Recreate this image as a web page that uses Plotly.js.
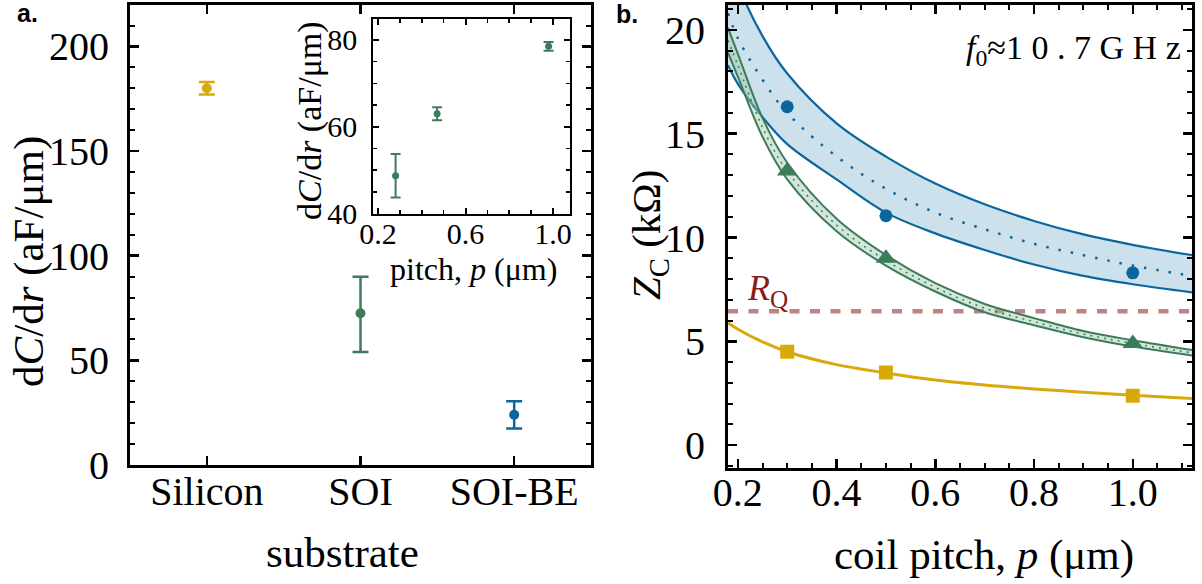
<!DOCTYPE html>
<html>
<head>
<meta charset="utf-8">
<script src="https://cdn.plot.ly/plotly-3.0.1.min.js"></script>
<style>html,body{margin:0;padding:0;background:#fff;}#chart{width:1202px;height:584px;}</style>
</head>
<body>
<div id="chart"></div>
<script>
// ---------- data ----------
const categories = ['Silicon', 'SOI', 'SOI-BE'];
const dCdr = [180, 72.5, 24];
const dCdrErrPlus = [3, 17.5, 6.5];
const dCdrErrMinus = [3, 18.5, 6.5];

const insetPitch = [0.28, 0.47, 0.98];
const insetDCdr = [48.7, 63.0, 78.5];
const insetErr = [5, 1.5, 1.0];

const curvePitch = [0.18, 0.2, 0.25, 0.3, 0.4, 0.5, 0.6, 0.7, 0.8, 0.9, 1.0, 1.12];
const blueUpper  = [23.8, 22.2, 19.7, 17.9, 15.5, 13.9, 12.6, 11.6, 10.8, 10.15, 9.65, 9.15];
const blueCenter = [20.8, 19.6, 17.6, 16.0, 13.9, 12.35, 11.2, 10.4, 9.7, 9.15, 8.65, 8.15];
const blueLower  = [18.3, 17.4, 15.8, 14.5, 12.8, 11.2, 10.2, 9.4, 8.7, 8.15, 7.75, 7.36];
const greenUpper  = [20.1, 18.85, 15.75, 13.6, 10.9, 9.15, 7.8, 6.8, 6.12, 5.5, 5.05, 4.58];
const greenCenter = [19.5, 18.3, 15.3, 13.2, 10.6, 8.9, 7.6, 6.6, 5.95, 5.35, 4.9, 4.45];
const greenLower  = [18.9, 17.75, 14.85, 12.8, 10.3, 8.65, 7.4, 6.4, 5.78, 5.2, 4.75, 4.32];
const yellowCurve = [5.9, 5.58, 4.97, 4.5, 3.88, 3.48, 3.14, 2.9, 2.71, 2.55, 2.4, 2.25];

const markerPitch = [0.3, 0.5, 1.0];
const blueMarkers = [16.3, 11.05, 8.3];
const greenMarkers = [13.2, 9.0, 4.9];
const yellowMarkers = [4.5, 3.5, 2.38];

const RQ = 6.45;

// ---------- styling ----------
const W = 1202, H = 584;
const SERIF = "'Liberation Serif', 'Times New Roman', serif";
const SANS = "'Liberation Sans', Arial, sans-serif";
const YEL = '#D9A90C', GRN = '#3B7D5A', BLU = '#0B669E';
const BLUFILL = 'rgba(120,175,205,0.38)', GRNFILL = 'rgba(160,200,170,0.45)';
const COLS = [YEL, GRN, BLU];
const fx = p => p / W;
const fy = p => 1 - p / H;

function frameAxis(extra) {
  return Object.assign({
    showline: true, linecolor: '#000', linewidth: 3, mirror: 'ticks',
    ticks: 'inside', tickcolor: '#000', tickwidth: 2.5, ticklen: 9,
    showgrid: false, zeroline: false, fixedrange: true,
    tickfont: {family: SERIF, size: 40, color: '#000'}
  }, extra);
}

const panelA = categories.map((c, i) => ({
  x: [c], y: [dCdr[i]], xaxis: 'x', yaxis: 'y', type: 'scatter', mode: 'markers',
  marker: {color: COLS[i], size: 10},
  error_y: {type: 'data', symmetric: false, array: [dCdrErrPlus[i]], arrayminus: [dCdrErrMinus[i]],
            thickness: 2.5, width: 8, color: COLS[i]}, hoverinfo: 'skip'
}));

const traces = [
  // inset
  {x: insetPitch, y: insetDCdr, xaxis: 'x2', yaxis: 'y2', type: 'scatter', mode: 'markers',
   marker: {color: GRN, size: 7},
   error_y: {type: 'data', array: insetErr, thickness: 2, width: 5, color: GRN}, hoverinfo: 'skip'},
  // panel b: blue band
  {x: curvePitch, y: blueLower, xaxis: 'x3', yaxis: 'y3', mode: 'lines',
   line: {color: BLU, width: 2.2, shape: 'spline'}, hoverinfo: 'skip'},
  {x: curvePitch, y: blueUpper, xaxis: 'x3', yaxis: 'y3', mode: 'lines', fill: 'tonexty', fillcolor: BLUFILL,
   line: {color: BLU, width: 2.2, shape: 'spline'}, hoverinfo: 'skip'},
  {x: curvePitch, y: blueCenter, xaxis: 'x3', yaxis: 'y3', mode: 'lines',
   line: {color: BLU, width: 2.5, dash: '2.5px,10px', shape: 'spline'}, hoverinfo: 'skip'},
  // green band
  {x: curvePitch, y: greenLower, xaxis: 'x3', yaxis: 'y3', mode: 'lines',
   line: {color: GRN, width: 2, shape: 'spline'}, hoverinfo: 'skip'},
  {x: curvePitch, y: greenUpper, xaxis: 'x3', yaxis: 'y3', mode: 'lines', fill: 'tonexty', fillcolor: GRNFILL,
   line: {color: GRN, width: 2, shape: 'spline'}, hoverinfo: 'skip'},
  {x: curvePitch, y: greenCenter, xaxis: 'x3', yaxis: 'y3', mode: 'lines',
   line: {color: GRN, width: 1.5, dash: '2px,5px', shape: 'spline'}, hoverinfo: 'skip'},
  // yellow
  {x: curvePitch, y: yellowCurve, xaxis: 'x3', yaxis: 'y3', mode: 'lines',
   line: {color: YEL, width: 3, shape: 'spline'}, hoverinfo: 'skip'},
  // markers
  {x: markerPitch, y: blueMarkers, xaxis: 'x3', yaxis: 'y3', mode: 'markers',
   marker: {color: BLU, size: 13, symbol: 'circle'}, hoverinfo: 'skip'},
  {x: markerPitch, y: greenMarkers, xaxis: 'x3', yaxis: 'y3', mode: 'markers',
   marker: {color: GRN, size: 18, symbol: 'triangle-up'}, hoverinfo: 'skip'},
  {x: markerPitch, y: yellowMarkers, xaxis: 'x3', yaxis: 'y3', mode: 'markers',
   marker: {color: YEL, size: 14, symbol: 'square'}, hoverinfo: 'skip'}
];
const data = panelA.concat(traces);

const ann = (text, x, y, opt) => Object.assign({
  text, x: fx(x), y: fy(y), xref: 'paper', yref: 'paper', showarrow: false,
  xanchor: 'center', yanchor: 'middle', font: {family: SERIF, size: 43, color: '#000'}
}, opt || {});

const layout = {
  width: W, height: H, margin: {l: 0, r: 0, t: 0, b: 0},
  paper_bgcolor: '#fff', plot_bgcolor: 'rgba(0,0,0,0)', showlegend: false,
  xaxis: frameAxis({domain: [fx(130), fx(591)], type: 'category', range: [-0.5, 2.5],
                    categoryorder: 'array', categoryarray: categories, anchor: 'y', ticklabelstandoff: -11}),
  yaxis: frameAxis({domain: [fy(465), fy(4.6)], range: [0, 220], dtick: 50, anchor: 'x',
                    minor: {ticks: 'inside', ticklen: 5, dtick: 10, tickwidth: 2, tickcolor: '#000'},
                    ticklabelstandoff: 10}),
  xaxis2: frameAxis({domain: [fx(373.3), fx(570)], range: [0.178, 1.078], tickvals: [0.2, 0.6, 1.0],
                     ticktext: ['0.2', '0.6', '1.0'], anchor: 'y2', linewidth: 2, ticklen: 6, tickwidth: 2,
                     tickfont: {family: SERIF, size: 30, color: '#000'},
                     minor: {ticks: 'inside', ticklen: 4, dtick: 0.1, tickwidth: 1.5, tickcolor: '#000'},
                     ticklabelstandoff: -8}),
  yaxis2: frameAxis({domain: [fy(214), fy(19)], range: [39.9, 84.8], tickvals: [40, 60, 80], anchor: 'x2',
                     linewidth: 2, ticklen: 6, tickwidth: 2,
                     tickfont: {family: SERIF, size: 30, color: '#000'},
                     minor: {ticks: 'inside', ticklen: 4, dtick: 5, tickwidth: 1.5, tickcolor: '#000'},
                     ticklabelstandoff: 8}),
  xaxis3: frameAxis({domain: [fx(728), fx(1192)], range: [0.18, 1.12], tickvals: [0.2, 0.4, 0.6, 0.8, 1.0],
                     ticktext: ['0.2', '0.4', '0.6', '0.8', '1.0'], anchor: 'y3',
                     minor: {ticks: 'inside', ticklen: 5, dtick: 0.05, tick0: 0, tickwidth: 2, tickcolor: '#000'},
                     ticklabelstandoff: -13}),
  yaxis3: frameAxis({domain: [fy(468), fy(5)], range: [-1.1, 21.2], dtick: 5, anchor: 'x3',
                     minor: {ticks: 'inside', ticklen: 5, dtick: 1, tickwidth: 2, tickcolor: '#000'},
                     ticklabelstandoff: 12}),
  shapes: [
    {type: 'line', xref: 'x3 domain', yref: 'y3', x0: 0, x1: 1, y0: RQ, y1: RQ,
     line: {color: '#BE8383', width: 4.5, dash: '10px,10.5px'}, layer: 'below'}
  ],
  annotations: [
    ann('<b>a.</b>', 27, 13, {font: {family: SANS, size: 25, color: '#000'}}),
    ann('<b>b.</b>', 627, 14, {font: {family: SANS, size: 25, color: '#000'}}),
    ann('substrate', 342, 552),
    ann('d<i>C</i>/d<i>r</i> (aF/μm)', 29, 262, {textangle: -90}),
    ann('pitch, <i>p</i> (μm)', 473.5, 269, {font: {family: SERIF, size: 32, color: '#000'}}),
    ann('d<i>C</i>/d<i>r</i> (aF/μm)', 310, 121, {textangle: -90, font: {family: SERIF, size: 34, color: '#000'}}),
    ann('coil pitch, <i>p</i> (μm)', 984, 555),
    ann('<i>Z</i><sub>C</sub> (kΩ)', 649, 235, {textangle: -90, font: {family: SERIF, size: 41, color: '#000'}}),
    ann('<i>f</i><sub>0</sub>≈1 0 . 7 G H z', 1183, 50, {xanchor: 'right', font: {family: SERIF, size: 34, color: '#000'}}),
    ann('<i>R</i><sub>Q</sub>', 767, 290, {font: {family: SERIF, size: 36, color: '#8B1A1A'}})
  ]
};

Plotly.newPlot('chart', data, layout, {displayModeBar: false, staticPlot: true});
</script>
</body>
</html>
